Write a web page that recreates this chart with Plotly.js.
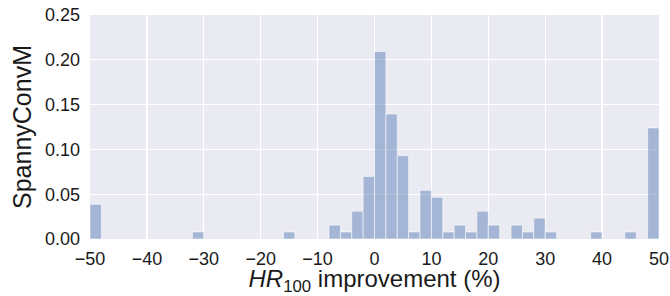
<!DOCTYPE html>
<html>
<head>
<meta charset="utf-8">
<script src="https://cdn.plot.ly/plotly-3.0.1.min.js"></script>
<style>html,body{margin:0;padding:0;background:#fff;}#chart{width:670px;height:296px;}</style>
</head>
<body>
<div id="chart"></div>
<script>
// Histogram bins (width 2, from -50 to 50): bin centres of non-empty bins
const binCenters = [-49, -31, -15, -7, -5, -3, -1, 1, 3, 5, 7, 9, 11, 13, 15, 17, 19, 21, 25, 27, 29, 31, 39, 45, 49];
// Fraction of cases per bin
const binFractions = [0.0388, 0.0078, 0.0078, 0.0155, 0.0078, 0.0310, 0.0698, 0.2093, 0.1395, 0.0930, 0.0078, 0.0543, 0.0465, 0.0078, 0.0155, 0.0078, 0.0310, 0.0155, 0.0155, 0.0078, 0.0233, 0.0078, 0.0078, 0.0078, 0.1240];
const xTicks = [-50, -40, -30, -20, -10, 0, 10, 20, 30, 40, 50];
const yTicks = [0, 0.05, 0.10, 0.15, 0.20, 0.25];

const trace = {
  type: 'bar',
  x: binCenters,
  y: binFractions,
  width: 2,
  marker: {color: 'rgba(76,114,176,0.44)', line: {color: 'rgba(255,255,255,0.55)', width: 1}},
  hoverinfo: 'x+y'
};

const layout = {
  width: 670, height: 296,
  margin: {l: 90, r: 11, t: 15, b: 57},
  paper_bgcolor: '#ffffff',
  plot_bgcolor: '#eaeaf2',
  showlegend: false,
  bargap: 0,
  font: {family: 'Liberation Sans, Arial, sans-serif', color: '#1a1a1a', size: 18},
  xaxis: {
    range: [-50, 50],
    tickvals: xTicks,
    showgrid: true, gridcolor: '#ffffff', gridwidth: 1.3,
    zeroline: false, showline: false, ticks: '',
    tickfont: {size: 18},
    ticklabelstandoff: 7,
    automargin: false,
    title: {text: '<i>HR</i><sub>100</sub> improvement (%)', font: {size: 24}, standoff: 6}
  },
  yaxis: {
    range: [0, 0.25],
    tickvals: yTicks,
    tickformat: '.2f',
    showgrid: true, gridcolor: '#ffffff', gridwidth: 1.3,
    zeroline: false, showline: false, ticks: '',
    tickfont: {size: 18},
    ticklabelstandoff: 9,
    automargin: false,
    title: {text: 'SpannyConvM', font: {size: 25}, standoff: 6}
  }
};

Plotly.newPlot('chart', [trace], layout, {displayModeBar: false, staticPlot: true});
</script>
</body>
</html>
